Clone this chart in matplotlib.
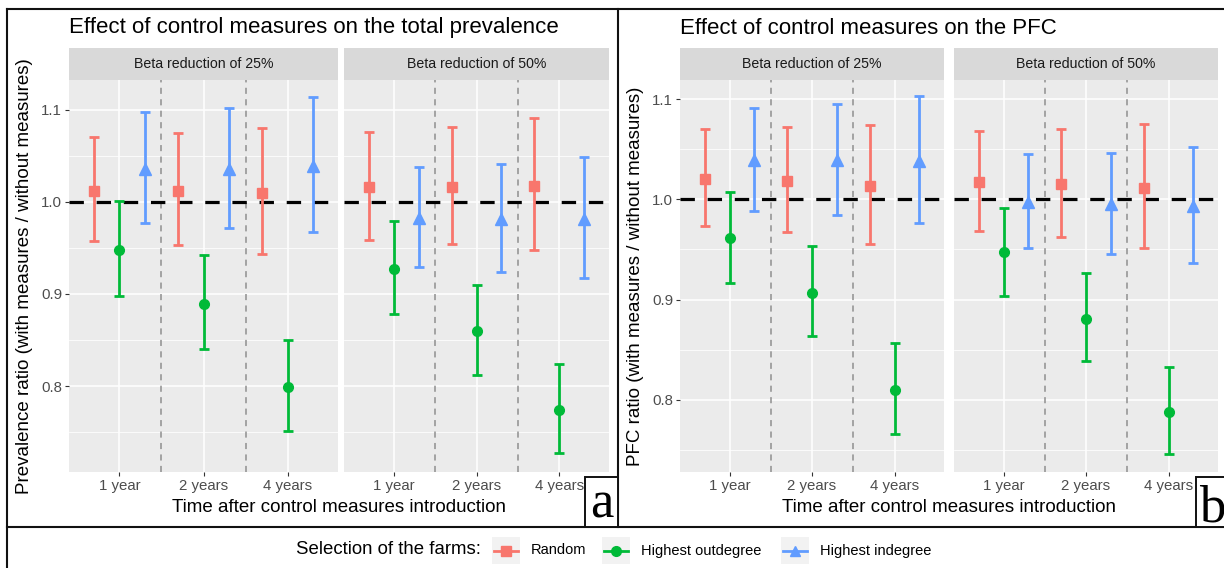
"""
effet des mesures de contrôle : prévalence totale et PFC (style ggplot)
"""
import matplotlib
matplotlib.use("Agg")
import matplotlib.pyplot as plt
import numpy as np
from matplotlib.lines import Line2D
from matplotlib.patches import Rectangle

plt.rcParams['font.family'] = ['Liberation Sans', 'DejaVu Sans']

times = ["1 year", "2 years", "4 years"]
groups = ["Random", "Highest outdegree", "Highest indegree"]
betas = ["Beta reduction of 25%", "Beta reduction of 50%"]
colors = ["#F8766D", "#00BA38", "#619CFF"]
markers = ["s", "o", "^"]

# prévalence totale, beta -25%  (lignes : Random, outdegree, indegree)
prev25_mid = [[1.012, 1.012, 1.009], [0.948, 0.889, 0.799], [1.036, 1.035, 1.039]]
prev25_low = [[0.957, 0.953, 0.943], [0.898, 0.840, 0.751], [0.977, 0.971, 0.967]]
prev25_high = [[1.070, 1.074, 1.080], [1.001, 0.942, 0.850], [1.097, 1.102, 1.114]]
# prévalence totale, beta -50%
prev50_mid = [[1.016, 1.016, 1.017], [0.927, 0.860, 0.774], [0.982, 0.981, 0.981]]
prev50_low = [[0.958, 0.954, 0.948], [0.878, 0.812, 0.728], [0.929, 0.924, 0.917]]
prev50_high = [[1.076, 1.081, 1.091], [0.979, 0.910, 0.824], [1.038, 1.041, 1.048]]
# PFC, beta -25%
pfc25_mid = [[1.020, 1.018, 1.013], [0.961, 0.907, 0.810], [1.039, 1.039, 1.038]]
pfc25_low = [[0.973, 0.967, 0.955], [0.917, 0.864, 0.766], [0.988, 0.984, 0.976]]
pfc25_high = [[1.070, 1.072, 1.074], [1.007, 0.953, 0.857], [1.091, 1.095, 1.103]]
# PFC, beta -50%
pfc50_mid = [[1.017, 1.015, 1.011], [0.947, 0.881, 0.788], [0.997, 0.995, 0.993]]
pfc50_low = [[0.968, 0.962, 0.951], [0.904, 0.839, 0.746], [0.951, 0.945, 0.936]]
pfc50_high = [[1.068, 1.070, 1.075], [0.991, 0.926, 0.833], [1.045, 1.046, 1.052]]

W, H = 1224, 568
fig = plt.figure(figsize=(W / 100, H / 100), dpi=100)


def rect(x0, y0, x1, y1):
    # pixels (origine en haut à gauche) -> coordonnées figure
    return [x0 / W, 1 - y1 / H, (x1 - x0) / W, (y1 - y0) / H]


panels = [
    dict(title="Effect of control measures on the total prevalence",
         ylabel="Prevalence ratio (with measures / without measures)",
         facets=[(69, 338), (344, 609)], ylim=(0.707, 1.132), ylab_x=25,
         data=[(prev25_mid, prev25_low, prev25_high),
               (prev50_mid, prev50_low, prev50_high)],
         letter="a", box=(585, 618), letter_y=517),
    dict(title="Effect of control measures on the PFC",
         ylabel="PFC ratio (with measures / without measures)",
         facets=[(680, 944), (954, 1218)], ylim=(0.728, 1.119), ylab_x=636,
         data=[(pfc25_mid, pfc25_low, pfc25_high),
               (pfc50_mid, pfc50_low, pfc50_high)],
         letter="b", box=(1196, 1232), letter_y=521),
]

offsets = [-0.3, 0.0, 0.3]
x = np.arange(len(times))

for p in panels:
    for j, (x0, x1) in enumerate(p["facets"]):
        # bandeau du facet
        sax = fig.add_axes(rect(x0, 48, x1, 80))
        sax.set_facecolor("#D9D9D9")
        sax.set_xticks([])
        sax.set_yticks([])
        for s in sax.spines.values():
            s.set_visible(False)
        sax.text(0.5, 0.5, betas[j], ha="center", va="center",
                 fontsize=10.2, color="#1A1A1A", transform=sax.transAxes)

        ax = fig.add_axes(rect(x0, 80, x1, 472))
        ax.set_facecolor("#EBEBEB")
        for s in ax.spines.values():
            s.set_visible(False)
        ax.set_xlim(-0.6, 2.6)
        ax.set_ylim(*p["ylim"])
        ax.set_yticks([0.8, 0.9, 1.0, 1.1])
        ax.set_yticks([0.75, 0.85, 0.95, 1.05], minor=True)
        ax.set_xticks(x)
        ax.set_xticklabels(times)
        ax.grid(which="major", color="white", lw=1.1, zorder=0)
        ax.grid(which="minor", axis="y", color="white", lw=0.55, zorder=0)
        ax.set_axisbelow(True)
        ax.tick_params(which="major", length=3, width=0.8, color="#333333",
                       labelcolor="#4D4D4D", labelsize=10.8, pad=2)
        ax.tick_params(which="minor", length=0)
        if j == 0:
            ax.set_yticklabels(["0.8", "0.9", "1.0", "1.1"])
        else:
            ax.tick_params(axis="y", which="both", left=False, labelleft=False)

        # séparateurs gris entre les années
        for xv in [0.5, 1.5]:
            ax.axvline(xv, color="#8F8F8F", lw=1.1, ls=(0, (4, 3.5)), zorder=1)
        ax.axhline(1.0, color="black", lw=2.3, ls=(0, (4.5, 4)), zorder=2)

        mid, low, high = p["data"][j]
        for g in range(len(groups)):
            m = np.array(mid[g])
            lo = np.array(low[g])
            hi = np.array(high[g])
            ax.errorbar(x + offsets[g], m, yerr=[m - lo, hi - m], fmt="none",
                        ecolor=colors[g], elinewidth=2.0, capsize=3.3,
                        capthick=2.0, zorder=3)
            ax.plot(x + offsets[g], m, ls="none", marker=markers[g],
                    color=colors[g], ms=8 if g == 2 else 7, zorder=4)

    fa, fb = p["facets"]
    fig.text(p["facets"][0][0] / W, 1 - 28 / H, p["title"], fontsize=16,
             ha="left", va="center", color="black")
    fig.text((fa[0] + fb[1]) / 2 / W, 1 - 507 / H,
             "Time after control measures introduction", fontsize=13.5,
             ha="center", va="center", color="black")
    fig.text(p["ylab_x"] / W, 1 - 276 / H, p["ylabel"], fontsize=13.5,
             rotation=90, ha="center", va="center", color="black")

    # petite boîte avec la lettre
    bx0, bx1 = p["box"]
    fig.add_artist(Rectangle((bx0 / W, 1 - 527 / H), (bx1 - bx0) / W, 50 / H,
                             transform=fig.transFigure, fill=True,
                             facecolor="white", edgecolor="#111111", lw=1.4,
                             zorder=5))
    fig.text((bx0 + 16.5) / W, 1 - p["letter_y"] / H, p["letter"],
             family="Liberation Serif", fontsize=38, ha="center",
             va="baseline", zorder=6)

# cadres
frame = dict(color="#111111", lw=1.5, transform=fig.transFigure)
fig.add_artist(Line2D([7 / W, 1], [1 - 9 / H, 1 - 9 / H], **frame))
fig.add_artist(Line2D([7 / W, 7 / W], [0, 1 - 9 / H], **frame))
fig.add_artist(Line2D([617.5 / W, 617.5 / W], [1 - 527 / H, 1 - 9 / H], **frame))
fig.add_artist(Line2D([7 / W, 1], [1 - 527 / H, 1 - 527 / H], **frame))

# légende en bas
fig.text(296 / W, 1 - 550 / H, "Selection of the farms:", fontsize=13.4,
         ha="left", va="center")
lax = fig.add_axes([0, 0, 1, 1], facecolor="none")
lax.set_xlim(0, W)
lax.set_ylim(H, 0)
lax.axis("off")
key_left = [492, 602, 781]
for g, kx in enumerate(key_left):
    lax.add_patch(Rectangle((kx, 537), 28, 27, facecolor="#F2F2F2",
                            edgecolor="none"))
    lax.plot([kx + 2, kx + 26], [550.5, 550.5], color=colors[g], lw=2.0)
    lax.plot([kx + 14], [550.5], marker=markers[g], color=colors[g],
             ms=7.5 if g == 2 else 7, ls="none")
    lax.text(kx + 39, 550.5, groups[g], fontsize=10.5, ha="left",
             va="center")

fig.savefig("out.png", dpi=100)
